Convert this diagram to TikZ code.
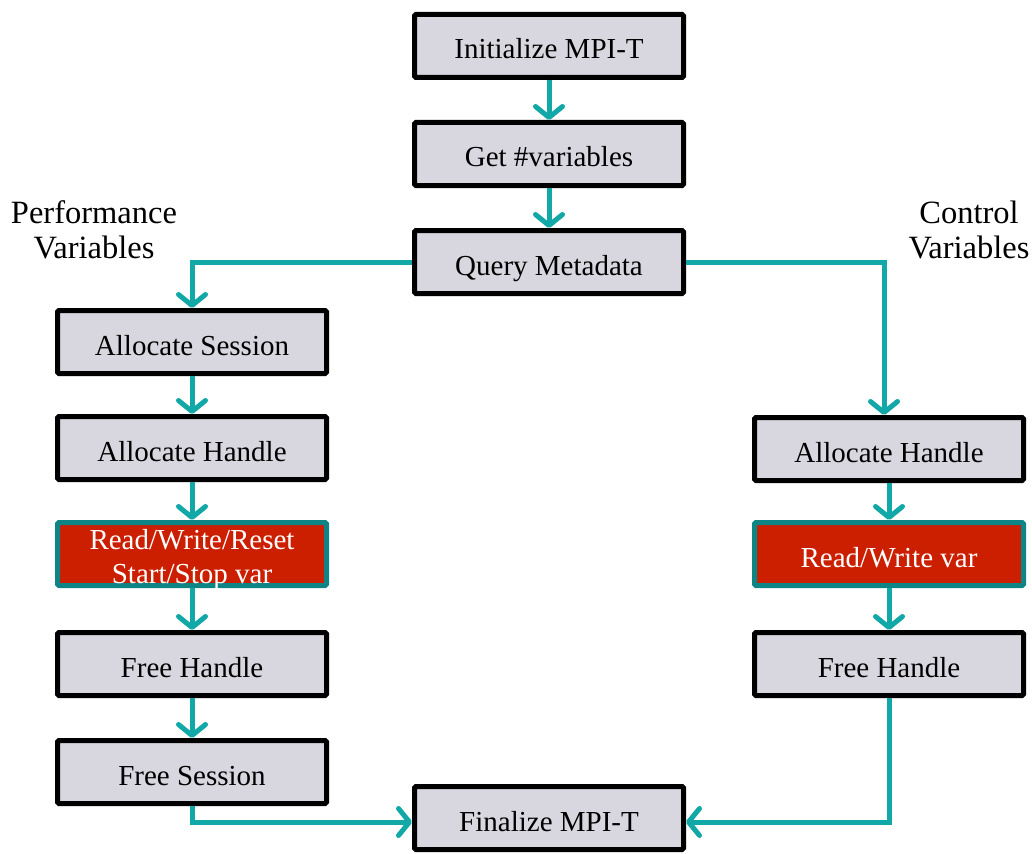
\documentclass[tikz,border=0pt]{standalone}
\usepackage{fontspec}
\setmainfont{Liberation Serif}
\usetikzlibrary{arrows.meta}
\definecolor{boxgray}{HTML}{D8D7DF}
\definecolor{flowteal}{HTML}{12A8A8}
\definecolor{alertred}{HTML}{CC1F00}
\definecolor{edgeteal}{HTML}{0E8484}

\begin{document}
\begin{tikzpicture}[x=1pt,y=-1pt,
  stepbox/.style={draw=black, line width=5pt, fill=boxgray,
    minimum width=269pt, minimum height=63pt, inner sep=0pt,
    rounded corners=1.5pt, align=center,
    text height=26pt, text depth=0pt,
    font=\fontsize{29}{34}\selectfont},
  hotbox/.style={stepbox, draw=edgeteal, fill=alertred, text=white},
  sidelabel/.style={align=center, font=\fontsize{32.5}{35}\selectfont},
  flow/.style={draw=flowteal, line width=5pt, line join=miter,
    -{Straight Barb[length=11pt,width=27pt,round]}},
]
\useasboundingbox (0,0) rectangle (1032,853);

% central column
\node[stepbox] (init)  at (549,46)  {Initialize MPI-T};
\node[stepbox] (nvars) at (549,154) {Get \#variables};
\node[stepbox] (query) at (549,262) {Query Metadata};
\node[stepbox] (final) at (549,818) {Finalize MPI-T};

% performance variables column
\node[stepbox] (asess)  at (192,342) {Allocate Session};
\node[stepbox] (ahandL) at (192,448) {Allocate Handle};
\node[hotbox, text height=58pt] (rwL) at (192,554) {Read/Write/Reset\\Start/Stop var};
\node[stepbox] (fhandL) at (192,664) {Free Handle};
\node[stepbox] (fsess)  at (192,772) {Free Session};

% control variables column
\node[stepbox] (ahandR) at (889,449) {Allocate Handle};
\node[hotbox]  (rwR)    at (889,554) {Read/Write var};
\node[stepbox] (fhandR) at (889,664) {Free Handle};

% column headings
\node[sidelabel] (perf) at (94,230)  {Performance\\Variables};
\node[sidelabel] (ctrl) at (969,230) {Control\\Variables};

% connectors
\draw[flow] (init.south)  -- (nvars.north);
\draw[flow] (nvars.south) -- (query.north);
\draw[flow] (query.west)  -| (asess.north);
\draw[flow] (query.east)  -| ([xshift=-5pt]ahandR.north);

\draw[flow] (asess.south)  -- (ahandL.north);
\draw[flow] (ahandL.south) -- (rwL.north);
\draw[flow] (rwL.south)    -- (fhandL.north);
\draw[flow] (fhandL.south) -- (fsess.north);

\draw[flow] (ahandR.south) -- (rwR.north);
\draw[flow] (rwR.south)    -- (fhandR.north);

\draw[flow] (fsess.south)  |- ([yshift=-4pt]final.west);
\draw[flow] (fhandR.south) |- ([yshift=-4pt]final.east);
\end{tikzpicture}
\end{document}
